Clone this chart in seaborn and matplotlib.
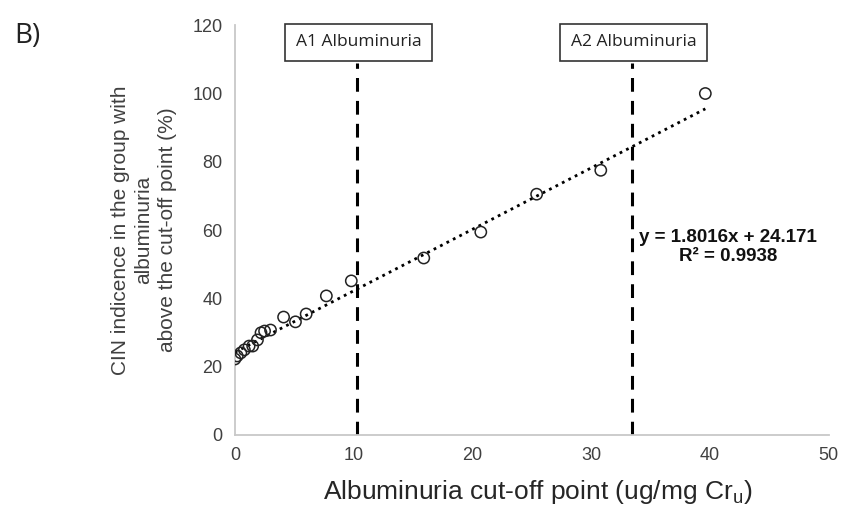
import numpy as np
import pandas as pd
import matplotlib
matplotlib.use("Agg")
import matplotlib.pyplot as plt
import seaborn as sns

# Data
cutoff = [0.0, 0.2, 0.5, 0.8, 1.2, 1.5, 1.9, 2.2, 2.5, 3.0, 4.1, 5.1, 6.0, 7.7, 9.8,
          15.9, 20.7, 25.4, 30.8, 39.6]
incidence = [22.2, 23.1, 24.0, 24.9, 26.0, 26.0, 27.8, 29.9, 30.4, 30.7, 34.5, 33.1, 35.4,
             40.7, 45.1, 51.8, 59.4, 70.5, 77.5, 100.0]
slope = "1.8016"
intercept = "24.171"
r2 = "0.9938"
thresholds = [10.3, 33.4]
threshold_labels = ["A1 Albuminuria", "A2 Albuminuria"]
xticks = [0, 10, 20, 30, 40, 50]
yticks = [0, 20, 40, 60, 80, 100, 120]

sns.set_theme(style="white")
plt.rcParams['font.family'] = ['Liberation Sans', 'DejaVu Sans']

fig = plt.figure(figsize=(8.51, 5.05), dpi=100)
ax = fig.add_axes([0.276, 0.139, 0.974 - 0.276, 0.950 - 0.139])

df = pd.DataFrame({"x": cutoff, "y": incidence})
sns.scatterplot(data=df, x="x", y="y", ax=ax, s=66, facecolor="none",
                edgecolor="#222222", linewidth=1.1, zorder=4)

xfit = np.array([min(cutoff), max(cutoff)])
fit = pd.DataFrame({"x": xfit, "y": float(slope) * xfit + float(intercept)})
sns.lineplot(data=fit, x="x", y="y", ax=ax, color="black", linewidth=2.0,
             linestyle=(0, (1, 1.6)), zorder=3)

for xv in thresholds:
    ax.plot([xv, xv], [0, 109], color="black", linewidth=2.2,
            linestyle=(0, (4.5, 3)), zorder=2)

ax.set_xlim(0, 50)
ax.set_ylim(0, 120)
ax.set_xticks(xticks)
ax.set_yticks(yticks)
ax.tick_params(axis="both", labelsize=13, colors="#404040", length=0, pad=9)
for s in ["top", "right"]:
    ax.spines[s].set_visible(False)
for s in ["left", "bottom"]:
    ax.spines[s].set_color("#c8c8c8")
    ax.spines[s].set_linewidth(1.3)

ax.set_xlabel("Albuminuria cut-off point (ug/mg Cr$_\\mathregular{u}$)", fontsize=19,
              color="#262626")
ax.xaxis.set_label_coords(0.51, -0.105)
ax.set_ylabel("CIN indicence in the group with\nalbuminuria\nabove the cut-off point (%)",
              fontsize=15, color="#404040", linespacing=1.3)
ax.yaxis.set_label_coords(-0.098, 0.5)

# Boxed labels
box_x = [(283 + 434) / 2, (558 + 709) / 2]
for lab, bx in zip(threshold_labels, box_x):
    fig.text(bx / 851, 1 - 42.5 / 505, lab, ha="center", va="center", fontsize=12.5,
             family=["Open Sans", "DejaVu Sans"], color="#222222",
             bbox=dict(boxstyle="square,pad=0.6", fc="white", ec="#333333", lw=1.2))

fig.text(14 / 851, 1 - 36 / 505, "B)", fontsize=20, family=["Open Sans", "DejaVu Sans"],
         color="#222222", va="center", ha="left")

ax.text(0.83, 0.459, f"y = {slope}x + {intercept}\nR² = {r2}", transform=ax.transAxes,
        ha="center", va="center", fontsize=13.5, fontweight="bold", color="#111111",
        linespacing=1.15)

fig.savefig("out.png", dpi=100)
